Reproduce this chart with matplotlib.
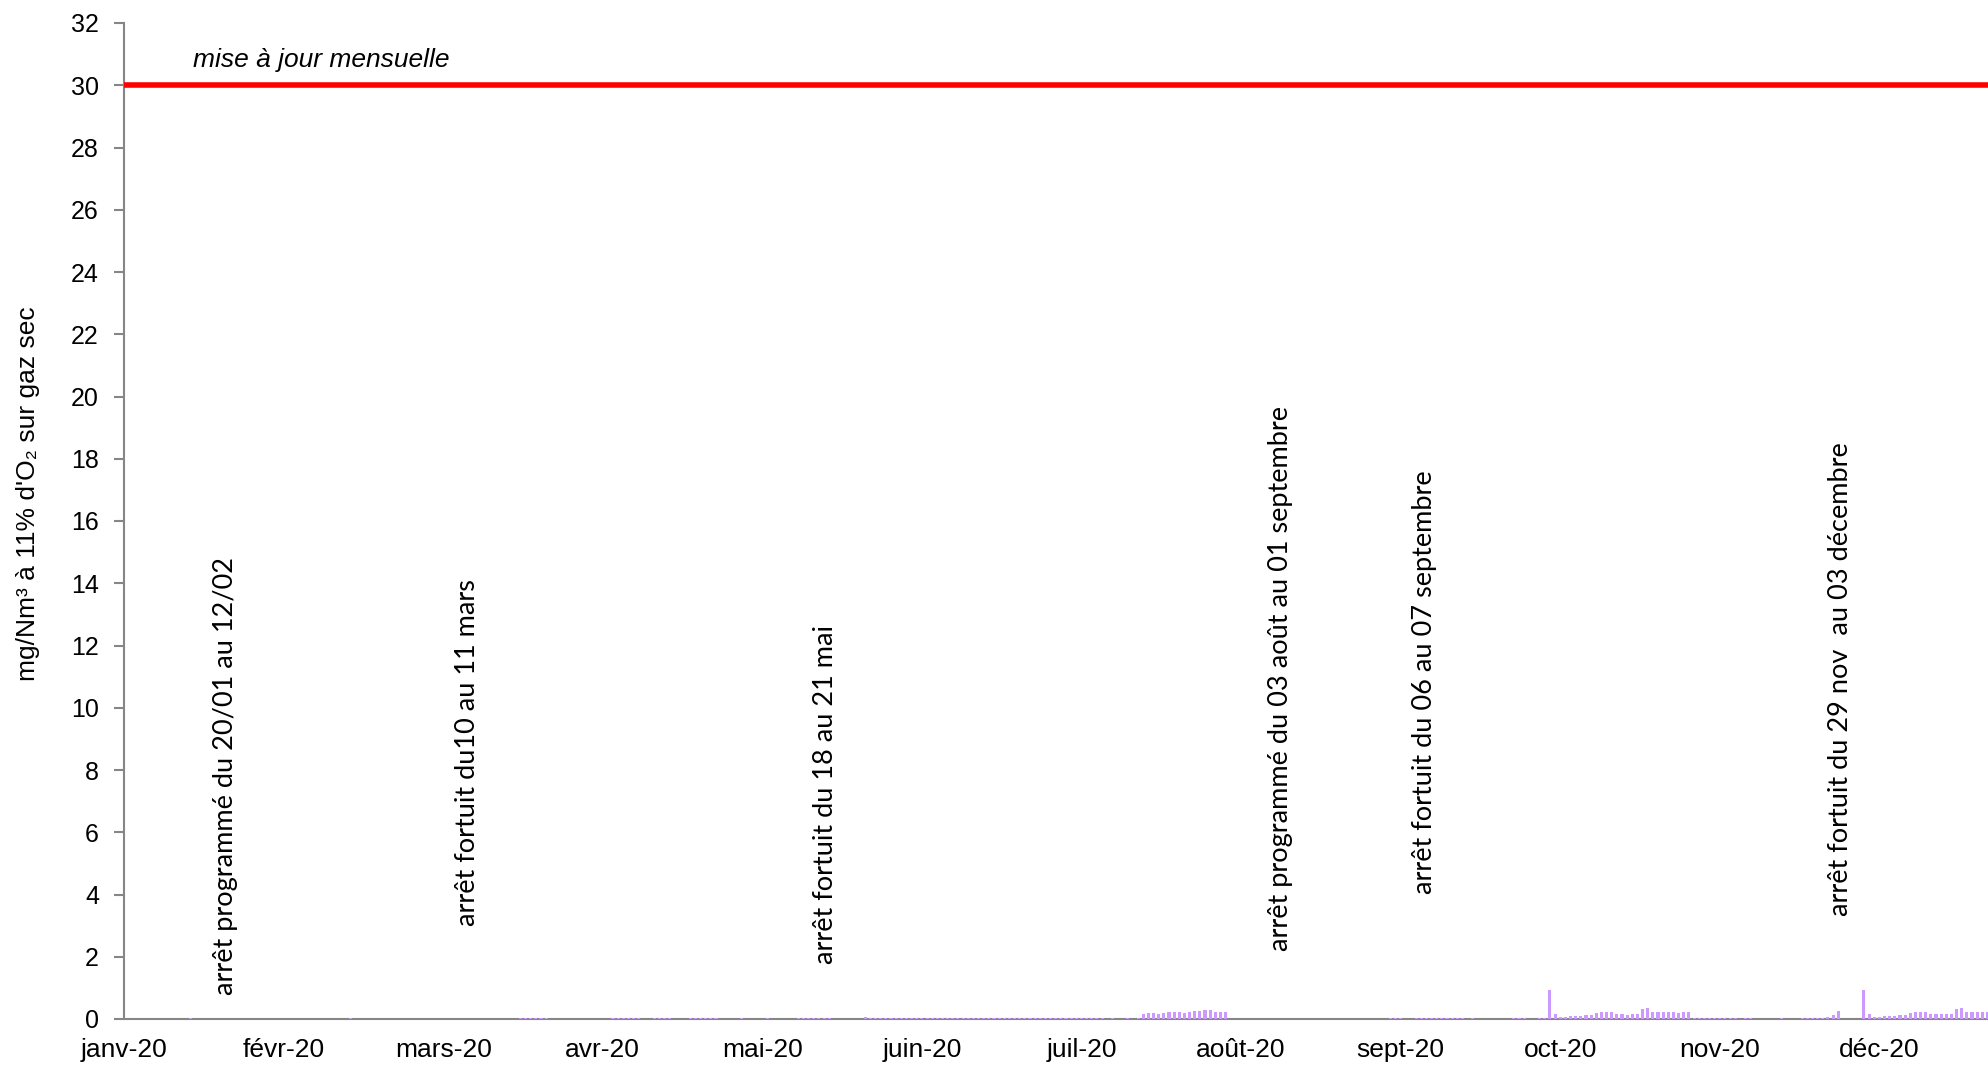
import numpy as np
import matplotlib
matplotlib.use("Agg")
from matplotlib import pyplot as plt

# axe des x : jours depuis le 01/01/2020, graduation tous les 31 jours
mois = ['janv-20', 'févr-20', 'mars-20', 'avr-20', 'mai-20', 'juin-20',
        'juil-20', 'août-20', 'sept-20', 'oct-20', 'nov-20', 'déc-20']
pas_mois = 31

# valeurs journalieres quasi nulles (traces sur l'axe) : debut / fin des plages
traces_debut = [13, 44, 77, 95, 103, 110, 120, 125, 131, 145, 192, 246, 251, 262, 270, 275, 305, 315, 322, 326]
traces_fin = [13, 44, 82, 100, 106, 115, 120, 125, 137, 190, 192, 248, 260, 262, 272, 276, 313, 316, 322, 329]
trace_val = 0.03

# petites valeurs isolees
isoles_jours = [144, 195]
isoles_val = [0.08, 0.03]

# juillet
juil_debut = 197
juil_val = [0.04, 0.17, 0.2, 0.2, 0.17, 0.19, 0.21, 0.24, 0.21, 0.2, 0.24, 0.26,
            0.26, 0.28, 0.28, 0.24, 0.24, 0.24]

# octobre (redemarrage du 04/10)
oct_debut = 277
oct_val = [0.93, 0.15, 0.075, 0.065, 0.085, 0.11, 0.085, 0.14, 0.12, 0.19, 0.24, 0.24,
           0.24, 0.17, 0.16, 0.14, 0.17, 0.17, 0.31, 0.34, 0.24, 0.24, 0.24, 0.24,
           0.24, 0.2, 0.22, 0.24]

# fin novembre
nov_debut = 330
nov_val = [0.03, 0.06, 0.12, 0.27]

# decembre (redemarrage du 04/12)
dec_debut = 338
dec_val = [0.93, 0.15, 0.075, 0.065, 0.085, 0.11, 0.085, 0.14, 0.12, 0.19, 0.24, 0.24,
           0.24, 0.17, 0.16, 0.17, 0.17, 0.17, 0.31, 0.34, 0.24, 0.24, 0.24, 0.24, 0.24]

vle = 30  # valeur limite

# annotations : texte, jour, bas du texte
arrets = ['arrêt programmé du 20/01 au 12/02',
          'arrêt fortuit du10 au 11 mars',
          'arrêt fortuit du 18 au 21 mai',
          'arrêt programmé du 03 août au 01 septembre',
          'arrêt fortuit du 06 au 07 septembre',
          'arrêt fortuit du 29 nov  au 03 décembre']
arrets_x = [19.8, 66.8, 136.2, 224.7, 252.7, 333.5]
arrets_y = [0.77, 3.0, 1.77, 2.19, 4.0, 3.3]

# construction des series
jours = []
valeurs = []
for d, f in zip(traces_debut, traces_fin):
    for j in range(d, f + 1):
        jours.append(j)
        valeurs.append(trace_val)
jours += isoles_jours
valeurs += isoles_val
for debut, vals in [(juil_debut, juil_val), (oct_debut, oct_val), (nov_debut, nov_val), (dec_debut, dec_val)]:
    jours += list(np.arange(debut, debut + len(vals)))
    valeurs += vals

plt.rcParams['font.family'] = ['Liberation Sans', 'DejaVu Sans']

fig = plt.figure(figsize=(19.88, 10.66), dpi=100)
ax = fig.add_axes([124 / 1988, 1 - 1019 / 1066, 1 - 124 / 1988, (1019 - 23) / 1066])

ax.bar(jours, valeurs, width=0.6, color='#CC99FF', zorder=3)
ax.axhline(vle, color='#FF0000', linewidth=4, zorder=4)

ax.text(13.4, 30.82, 'mise à jour mensuelle', style='italic', fontsize=19, va='center', ha='left')

for t, x, y in zip(arrets, arrets_x, arrets_y):
    ax.text(x, y, t, rotation=90, ha='center', va='bottom', fontsize=19.5, family=['Lato', 'DejaVu Sans'])

ax.set_xlim(0, 362.1)
ax.set_ylim(0, 32)
ax.set_yticks(np.arange(0, 33, 2))
ax.set_xticks(np.arange(len(mois)) * pas_mois)
ax.set_xticklabels(mois)

for s in ['top', 'right']:
    ax.spines[s].set_visible(False)
for s in ['left', 'bottom']:
    ax.spines[s].set_color('#868686')
    ax.spines[s].set_linewidth(1.5)
ax.tick_params(axis='y', length=7, width=1.5, color='#868686', pad=11, labelsize=18)
ax.tick_params(axis='x', length=0, pad=14, labelsize=19)

ax.set_ylabel("mg/Nm³ à 11% d'O₂ sur gaz sec", fontsize=19)
ax.yaxis.set_label_coords(-0.045, 0.527)

fig.savefig('out.png', dpi=100)
